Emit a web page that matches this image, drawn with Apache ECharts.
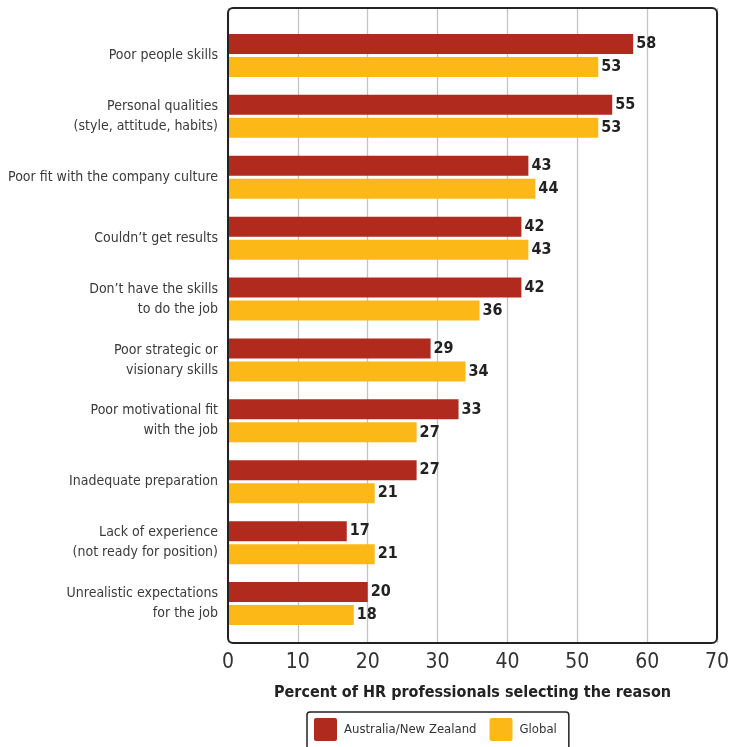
<!DOCTYPE html>
<html>
<head>
<meta charset="utf-8">
<script src="https://cdn.jsdelivr.net/npm/echarts@6/dist/echarts.min.js"></script>
<style>
  html, body { margin: 0; padding: 0; background: #ffffff; }
  #chart { width: 733px; height: 747px; }
</style>
</head>
<body>
<div id="chart"></div>
<script>
// Reasons given for a leader's failure, top to bottom
const categories = [
  'Poor people skills',
  'Personal qualities\n(style, attitude, habits)',
  'Poor fit with the company culture',
  'Couldn\u2019t get results',
  'Don\u2019t have the skills\nto do the job',
  'Poor strategic or\nvisionary skills',
  'Poor motivational fit\nwith the job',
  'Inadequate preparation',
  'Lack of experience\n(not ready for position)',
  'Unrealistic expectations\nfor the job'
];
const australiaNZ = [58, 55, 43, 42, 42, 29, 33, 27, 17, 20];
const globalValues = [53, 53, 44, 43, 36, 34, 27, 21, 21, 18];
const xTicks = [0, 10, 20, 30, 40, 50, 60, 70];
const seriesNames = ['Australia/New Zealand', 'Global'];
const axisTitle = 'Percent of HR professionals selecting the reason';

const FONT = '"Liberation Sans Narrow", "DejaVu Sans Condensed", "Liberation Sans", sans-serif';
const RED = '#B12A1E';
const YELLOW = '#FBB817';
// small-radius rounded square for the legend keys
const KEY_ICON = 'path://M2,0H21Q23,0 23,2V21Q23,23 21,23H2Q0,23 0,21V2Q0,0 2,0Z';

const chart = echarts.init(document.getElementById('chart'), null, { renderer: 'canvas' });

const valueLabel = {
  show: true,
  position: 'right',
  distance: 3,
  fontFamily: FONT,
  fontWeight: 'bold',
  fontSize: 16,
  color: '#222222'
};

chart.setOption({
  animation: false,
  backgroundColor: '#ffffff',
  textStyle: { fontFamily: FONT },
  grid: [
    // frame grid: gridlines and the value axis
    { left: 228, top: 8, width: 489, height: 635, show: false, containLabel: false, outerBoundsMode: 'none' },
    // bar grid: category bands
    { left: 228, top: 25, width: 489, height: 609, show: false, containLabel: false, outerBoundsMode: 'none' }
  ],
  xAxis: [
    {
      gridIndex: 0,
      type: 'value',
      min: xTicks[0],
      max: xTicks[xTicks.length - 1],
      interval: 10,
      axisLine: { show: false },
      axisTick: { show: false },
      splitLine: { show: true, lineStyle: { color: '#c4c4c4', width: 1.3 } },
      axisLabel: {
        margin: 9,
        fontFamily: FONT,
        fontSize: 21,
        color: '#333333',
        formatter: v => xTicks.includes(v) ? String(v) : ''
      },
      name: axisTitle,
      nameLocation: 'middle',
      nameGap: 42,
      nameTextStyle: {
        fontFamily: FONT,
        fontWeight: 'bold',
        fontSize: 16,
        color: '#222222'
      }
    },
    {
      gridIndex: 1,
      type: 'value',
      min: xTicks[0],
      max: xTicks[xTicks.length - 1],
      show: false
    }
  ],
  yAxis: [
    {
      gridIndex: 0,
      type: 'category',
      data: categories,
      show: false
    },
    {
      gridIndex: 1,
      type: 'category',
      data: categories,
      inverse: true,
      axisLine: { show: false },
      axisTick: { show: false },
      splitLine: { show: false },
      axisLabel: {
        margin: 10,
        fontFamily: FONT,
        fontSize: 14,
        lineHeight: 20,
        color: '#3a3a3a',
        align: 'right'
      }
    }
  ],
  legend: {
    data: seriesNames,
    left: 307,
    top: 712,
    orient: 'horizontal',
    icon: KEY_ICON,
    itemWidth: 23,
    itemHeight: 23,
    itemGap: 13,
    padding: [6, 12, 10, 7],
    borderColor: '#222222',
    borderWidth: 1.5,
    borderRadius: 3,
    textStyle: {
      fontFamily: FONT,
      fontSize: 13,
      color: '#333333',
      padding: [2, 0, 0, 2]
    }
  },
  series: [
    {
      name: seriesNames[0],
      type: 'bar',
      xAxisIndex: 1,
      yAxisIndex: 1,
      data: australiaNZ,
      barWidth: 20,
      barGap: '15%',
      itemStyle: { color: RED },
      label: valueLabel
    },
    {
      name: seriesNames[1],
      type: 'bar',
      xAxisIndex: 1,
      yAxisIndex: 1,
      data: globalValues,
      barWidth: 20,
      barGap: '15%',
      itemStyle: { color: YELLOW },
      label: valueLabel
    }
  ],
  graphic: [
    {
      type: 'rect',
      z: 100,
      shape: { x: 228, y: 8, width: 489, height: 635, r: 5 },
      style: { fill: 'none', stroke: '#222222', lineWidth: 2 },
      silent: true
    }
  ]
});
</script>
</body>
</html>
